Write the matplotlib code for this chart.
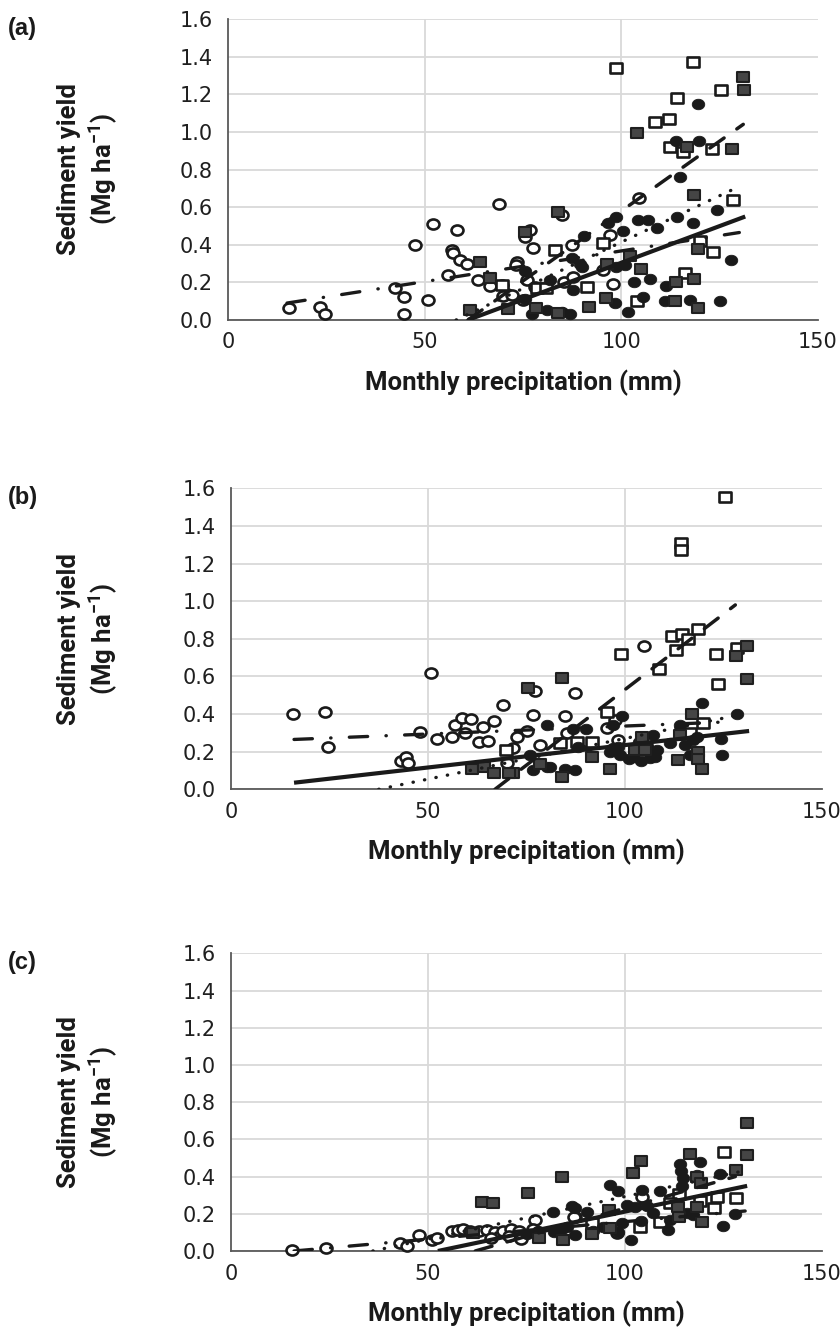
import matplotlib
matplotlib.use("Agg")
import matplotlib.pyplot as plt
from matplotlib.path import Path
from matplotlib import font_manager

# ---------------- data ----------------
# Panel (a)
oc_a_x = [15.4, 23.5, 24.6, 42.5, 44.7, 44.8, 47.5, 50.9, 52.0, 58.3, 56.9, 57.3, 59.0, 60.7, 56.0, 63.6, 66.6,
          68.9, 69.6, 70.9, 70.0, 72.1, 73.4, 73.2, 76.8, 75.5, 77.5, 75.9, 78.0, 75.1, 84.8, 87.4, 85.3, 87.8,
          95.4, 98.0, 97.1, 104.6]
oc_a_y = [0.062, 0.071, 0.032, 0.172, 0.124, 0.032, 0.40, 0.106, 0.51, 0.48, 0.37, 0.358, 0.32, 0.30, 0.24, 0.21,
          0.18, 0.615, 0.186, 0.14, 0.128, 0.133, 0.31, 0.29, 0.48, 0.44, 0.385, 0.21, 0.177, 0.106, 0.56, 0.40,
          0.20, 0.227, 0.266, 0.19, 0.45, 0.647]
fc_a_x = [75.5, 75.5, 77.2, 81.0, 81.9, 84.8, 87.0, 87.4, 87.8, 89.5, 89.9, 90.4, 96.6, 98.6, 98.6, 98.4, 100.4,
          101.0, 101.8, 103.3, 104.3, 105.6, 106.9, 107.3, 109.0, 111.3, 111.2, 114.1, 114.0, 115.0, 117.5, 118.1,
          119.4, 119.8, 124.4, 125.0, 128.0]
fc_a_y = [0.26, 0.11, 0.03, 0.055, 0.21, 0.044, 0.03, 0.33, 0.16, 0.30, 0.28, 0.445, 0.515, 0.55, 0.28, 0.088,
          0.475, 0.29, 0.04, 0.204, 0.53, 0.124, 0.53, 0.216, 0.49, 0.18, 0.10, 0.546, 0.95, 0.76, 0.105, 0.514,
          1.15, 0.95, 0.585, 0.10, 0.32]
os_a_x = [98.7, 118.3, 114.2, 125.3, 108.6, 112.0, 112.4, 115.8, 123.0, 128.3, 120.0, 123.4, 116.2, 104.0, 91.2,
          95.3, 83.1, 69.6, 78.5, 80.9]
os_a_y = [1.34, 1.37, 1.18, 1.22, 1.055, 1.07, 0.92, 0.895, 0.91, 0.64, 0.42, 0.36, 0.25, 0.10, 0.177, 0.41,
          0.37, 0.186, 0.169, 0.169]
fs_a_x = [131.0, 131.2, 104.0, 116.8, 128.2, 118.6, 84.0, 75.5, 102.2, 105.0, 96.3, 119.4, 114.0, 118.6, 113.7,
          119.4, 96.0, 91.8, 84.0, 78.3, 71.3, 64.1, 66.6, 61.5]
fs_a_y = [1.29, 1.225, 0.995, 0.92, 0.91, 0.665, 0.573, 0.47, 0.34, 0.27, 0.296, 0.38, 0.20, 0.22, 0.10, 0.065,
          0.119, 0.067, 0.035, 0.065, 0.057, 0.31, 0.225, 0.053]

# Panel (b)
oc_b_x = [15.7, 23.9, 24.5, 43.2, 44.5, 44.8, 50.8, 47.9, 52.3, 56.1, 56.9, 58.6, 61.0, 59.5, 63.9, 62.9, 65.2,
          66.8, 69.1, 70.0, 77.2, 87.3, 76.7, 84.8, 104.8, 75.0, 72.5, 71.5, 78.4, 85.2, 95.4, 98.3, 97.5]
oc_b_y = [0.40, 0.41, 0.226, 0.15, 0.17, 0.14, 0.62, 0.306, 0.266, 0.28, 0.34, 0.38, 0.374, 0.30, 0.33, 0.25,
          0.257, 0.365, 0.45, 0.14, 0.52, 0.51, 0.395, 0.39, 0.76, 0.31, 0.28, 0.22, 0.235, 0.30, 0.324, 0.262,
          0.368]
fc_b_x = [75.9, 76.7, 80.1, 80.1, 81.0, 84.8, 86.9, 87.3, 88.1, 90.1, 96.2, 97.0, 97.0, 98.2, 98.7, 99.3, 101.0,
          102.1, 104.0, 106.3, 107.0, 107.6, 108.0, 111.4, 114.0, 115.2, 116.5, 117.3, 118.2, 119.5, 124.3, 124.5,
          128.3, 103.5, 105.5]
fc_b_y = [0.18, 0.10, 0.34, 0.12, 0.12, 0.11, 0.32, 0.10, 0.226, 0.32, 0.20, 0.34, 0.218, 0.226, 0.18, 0.39,
          0.16, 0.17, 0.15, 0.165, 0.29, 0.17, 0.21, 0.245, 0.34, 0.235, 0.18, 0.262, 0.28, 0.46, 0.27, 0.18,
          0.40, 0.25, 0.23]
os_b_x = [125.5, 114.1, 114.1, 98.9, 112.0, 114.4, 116.1, 118.6, 108.7, 112.9, 123.0, 128.3, 123.7, 95.4, 83.5,
          87.7, 91.5, 69.8, 119.9, 116.5]
os_b_y = [1.555, 1.31, 1.27, 0.72, 0.817, 0.824, 0.80, 0.85, 0.64, 0.74, 0.72, 0.75, 0.56, 0.41, 0.245, 0.253,
          0.253, 0.21, 0.35, 0.30]
fs_b_x = [131.0, 128.2, 130.9, 83.9, 75.5, 116.9, 104.2, 114.0, 102.5, 105.1, 118.6, 118.6, 113.5, 119.5, 91.5,
          96.2, 83.9, 78.4, 71.5, 61.2, 64.1, 66.7, 70.5]
fs_b_y = [0.76, 0.71, 0.585, 0.59, 0.537, 0.40, 0.276, 0.29, 0.21, 0.21, 0.20, 0.16, 0.156, 0.11, 0.17, 0.108,
          0.064, 0.135, 0.085, 0.11, 0.12, 0.088, 0.085]

# Panel (c)
oc_c_x = [15.5, 24.2, 42.9, 44.6, 47.8, 50.9, 52.2, 56.0, 57.5, 59.0, 60.7, 63.0, 65.0, 67.0, 69.0, 71.0, 73.0,
          66.0, 70.5, 73.5, 77.2, 87.3, 104.2, 87.1, 97.9, 76.7]
oc_c_y = [0.005, 0.015, 0.045, 0.027, 0.086, 0.059, 0.072, 0.11, 0.115, 0.12, 0.11, 0.105, 0.115, 0.10, 0.11,
          0.12, 0.105, 0.07, 0.08, 0.065, 0.167, 0.184, 0.289, 0.185, 0.095, 0.12]
fc_c_x = [119.0, 114.0, 114.1, 114.6, 124.1, 118.2, 114.4, 108.9, 104.2, 96.2, 98.3, 127.9, 124.9, 111.0, 101.4,
          107.2, 100.4, 102.5, 105.5, 87.3, 90.3, 98.3, 115.7, 85.2, 87.3, 94.5, 99.2, 117.3, 111.4, 81.8, 86.5,
          75.0, 78.0, 82.0, 84.0, 92.0, 104.0]
fc_c_y = [0.48, 0.468, 0.43, 0.39, 0.414, 0.41, 0.35, 0.324, 0.328, 0.355, 0.324, 0.20, 0.134, 0.113, 0.059,
          0.203, 0.247, 0.238, 0.242, 0.23, 0.211, 0.104, 0.203, 0.13, 0.086, 0.13, 0.149, 0.194, 0.167, 0.21,
          0.24, 0.09, 0.11, 0.10, 0.12, 0.11, 0.16]
os_c_x = [125.2, 128.1, 123.3, 122.7, 113.8, 103.8, 91.5, 111.4, 108.9, 119.0]
os_c_y = [0.53, 0.283, 0.292, 0.23, 0.305, 0.127, 0.149, 0.256, 0.158, 0.27]
fs_c_x = [130.9, 130.9, 116.5, 104.0, 102.1, 83.9, 128.1, 118.4, 119.2, 113.5, 118.2, 113.8, 119.5, 96.0, 96.2,
          91.5, 84.2, 63.6, 66.4, 75.3, 61.5, 78.2]
fs_c_y = [0.69, 0.518, 0.52, 0.485, 0.42, 0.40, 0.435, 0.396, 0.364, 0.238, 0.235, 0.184, 0.158, 0.22, 0.122,
          0.091, 0.059, 0.262, 0.256, 0.31, 0.095, 0.068]

# trendline end points: [x_start, x_end], [y_start, y_end]
tr_oc_a = ([15.0, 130.0], [0.09, 0.465])
tr_fc_a = ([61.0, 131.5], [0.0, 0.55])
tr_os_a = ([61.0, 131.0], [0.0, 1.04])
tr_fs_a = ([58.0, 130.0], [0.0, 0.71])

tr_oc_b = ([16.0, 128.0], [0.265, 0.36])
tr_fc_b = ([16.0, 131.5], [0.035, 0.31])
tr_os_b = ([67.0, 128.0], [0.0, 0.98])
tr_fs_b = ([37.5, 130.0], [0.0, 0.40])

tr_oc_c = ([16.0, 130.5], [0.0, 0.215])
tr_fc_c = ([52.5, 131.0], [0.0, 0.35])
tr_os_c = ([62.0, 128.0], [0.0, 0.40])
tr_fs_c = ([36.0, 130.0], [0.0, 0.43])

panel_labels = ["(a)", "(b)", "(c)"]
x_ticks = [0, 50, 100, 150]
y_ticks = [0.0, 0.2, 0.4, 0.6, 0.8, 1.0, 1.2, 1.4, 1.6]
x_label = "Monthly precipitation (mm)"
y_label = "Sediment yield\n(Mg ha$^{-1}$)"

# ---------------- fonts ----------------
def available(name):
    try:
        font_manager.findfont(font_manager.FontProperties(family=name), fallback_to_default=False)
        return True
    except Exception:
        return False

cond = "Liberation Sans Narrow" if available("Liberation Sans Narrow") else "Roboto"
plt.rcParams["mathtext.fontset"] = "custom"
plt.rcParams["mathtext.rm"] = cond + ":bold"
plt.rcParams["mathtext.it"] = cond + ":bold"
plt.rcParams["mathtext.bf"] = cond + ":bold"

# ---------------- markers ----------------
_c = Path.unit_circle()
ellipse = Path(_c.vertices * [1.0, 0.84], _c.codes)
rect = Path([(-0.5, -0.43), (0.5, -0.43), (0.5, 0.43), (-0.5, 0.43), (-0.5, -0.43)],
            [Path.MOVETO, Path.LINETO, Path.LINETO, Path.LINETO, Path.CLOSEPOLY])

INK = "#1a1a1a"

fig = plt.figure(figsize=(8.4, 13.32), dpi=100)
W, H = 840.0, 1332.0
boxes = [(228, 818, 19, 320), (231, 822, 488.3, 789.3), (231, 822, 953.3, 1251)]

panels = [
    (oc_a_x, oc_a_y, fc_a_x, fc_a_y, os_a_x, os_a_y, fs_a_x, fs_a_y, tr_oc_a, tr_fc_a, tr_os_a, tr_fs_a),
    (oc_b_x, oc_b_y, fc_b_x, fc_b_y, os_b_x, os_b_y, fs_b_x, fs_b_y, tr_oc_b, tr_fc_b, tr_os_b, tr_fs_b),
    (oc_c_x, oc_c_y, fc_c_x, fc_c_y, os_c_x, os_c_y, fs_c_x, fs_c_y, tr_oc_c, tr_fc_c, tr_os_c, tr_fs_c),
]

for i, (box, data) in enumerate(zip(boxes, panels)):
    l, r, t, b = box
    ax = fig.add_axes([l / W, 1 - b / H, (r - l) / W, (b - t) / H])
    (ocx, ocy, fcx, fcy, osx, osy, fsx, fsy, toc, tfc, tos, tfs) = data

    ax.set_xlim(0, 150)
    ax.set_ylim(0, 1.6)
    ax.set_xticks(x_ticks)
    ax.set_yticks(y_ticks)
    ax.set_xticklabels([str(v) for v in x_ticks])
    ax.set_yticklabels([f"{v:.1f}" for v in y_ticks])
    ax.grid(True, axis="y", color="#d9d9d9", lw=1.3, zorder=0)
    for xv in x_ticks[1:-1]:
        ax.axvline(xv, color="#d9d9d9", lw=1.3, zorder=0)
    ax.set_axisbelow(True)
    for s in ["top", "right"]:
        ax.spines[s].set_visible(False)
    for s in ["left", "bottom"]:
        ax.spines[s].set_color("#595959")
        ax.spines[s].set_linewidth(1.3)
        ax.spines[s].set_zorder(1)
    ax.tick_params(length=0, labelsize=15, colors="#1f1f1f")
    ax.tick_params(axis="y", pad=11)
    ax.tick_params(axis="x", pad=9)
    for lab in ax.get_xticklabels() + ax.get_yticklabels():
        lab.set_family("DejaVu Sans")

    ax.plot(ocx, ocy, ls="none", marker=ellipse, ms=8.6, mfc="white", mec=INK, mew=1.9, zorder=3, clip_on=False)
    ax.plot(osx, osy, ls="none", marker=rect, ms=8.2, mfc="white", mec=INK, mew=1.9, zorder=3, clip_on=False)
    ax.plot(fcx, fcy, ls="none", marker=ellipse, ms=9.0, mfc=INK, mec=INK, mew=0.6, zorder=4, clip_on=False)
    ax.plot(fsx, fsy, ls="none", marker=rect, ms=8.2, mfc="#454545", mec="#1f1f1f", mew=1.5, zorder=5,
            clip_on=False)

    ax.plot(toc[0], toc[1], color=INK, lw=2.4, dashes=(5.5, 5.5, 0.1, 5.5), dash_capstyle="round", zorder=6)
    ax.plot(tfc[0], tfc[1], color=INK, lw=3.0, solid_capstyle="butt", zorder=6)
    ax.plot(tos[0], tos[1], color=INK, lw=2.5, dashes=(5.0, 4.5), dash_capstyle="round", zorder=6)
    ax.plot(tfs[0], tfs[1], color=INK, lw=2.4, dashes=(0.1, 3.4), dash_capstyle="round", zorder=6)

    # panel label
    fig.text(8 / W, 1 - (t - 2) / H, panel_labels[i], ha="left", va="top", fontsize=17,
             fontweight="bold", family="Liberation Sans", color="#1a1a1a")
    # y label
    fig.text(88 / W, 1 - ((t + b) / 2) / H, y_label, rotation=90, ha="center", va="center",
             multialignment="center", fontsize=18.5, fontweight="bold", family=[cond, "DejaVu Sans"],
             color="#1a1a1a", linespacing=1.2)
    # x label
    fig.text(((l + r) / 2) / W, 1 - (b + 63) / H, x_label, ha="center", va="center", fontsize=18.5,
             fontweight="bold", family=[cond, "DejaVu Sans"], color="#1a1a1a")

fig.savefig("out.png", dpi=100)
